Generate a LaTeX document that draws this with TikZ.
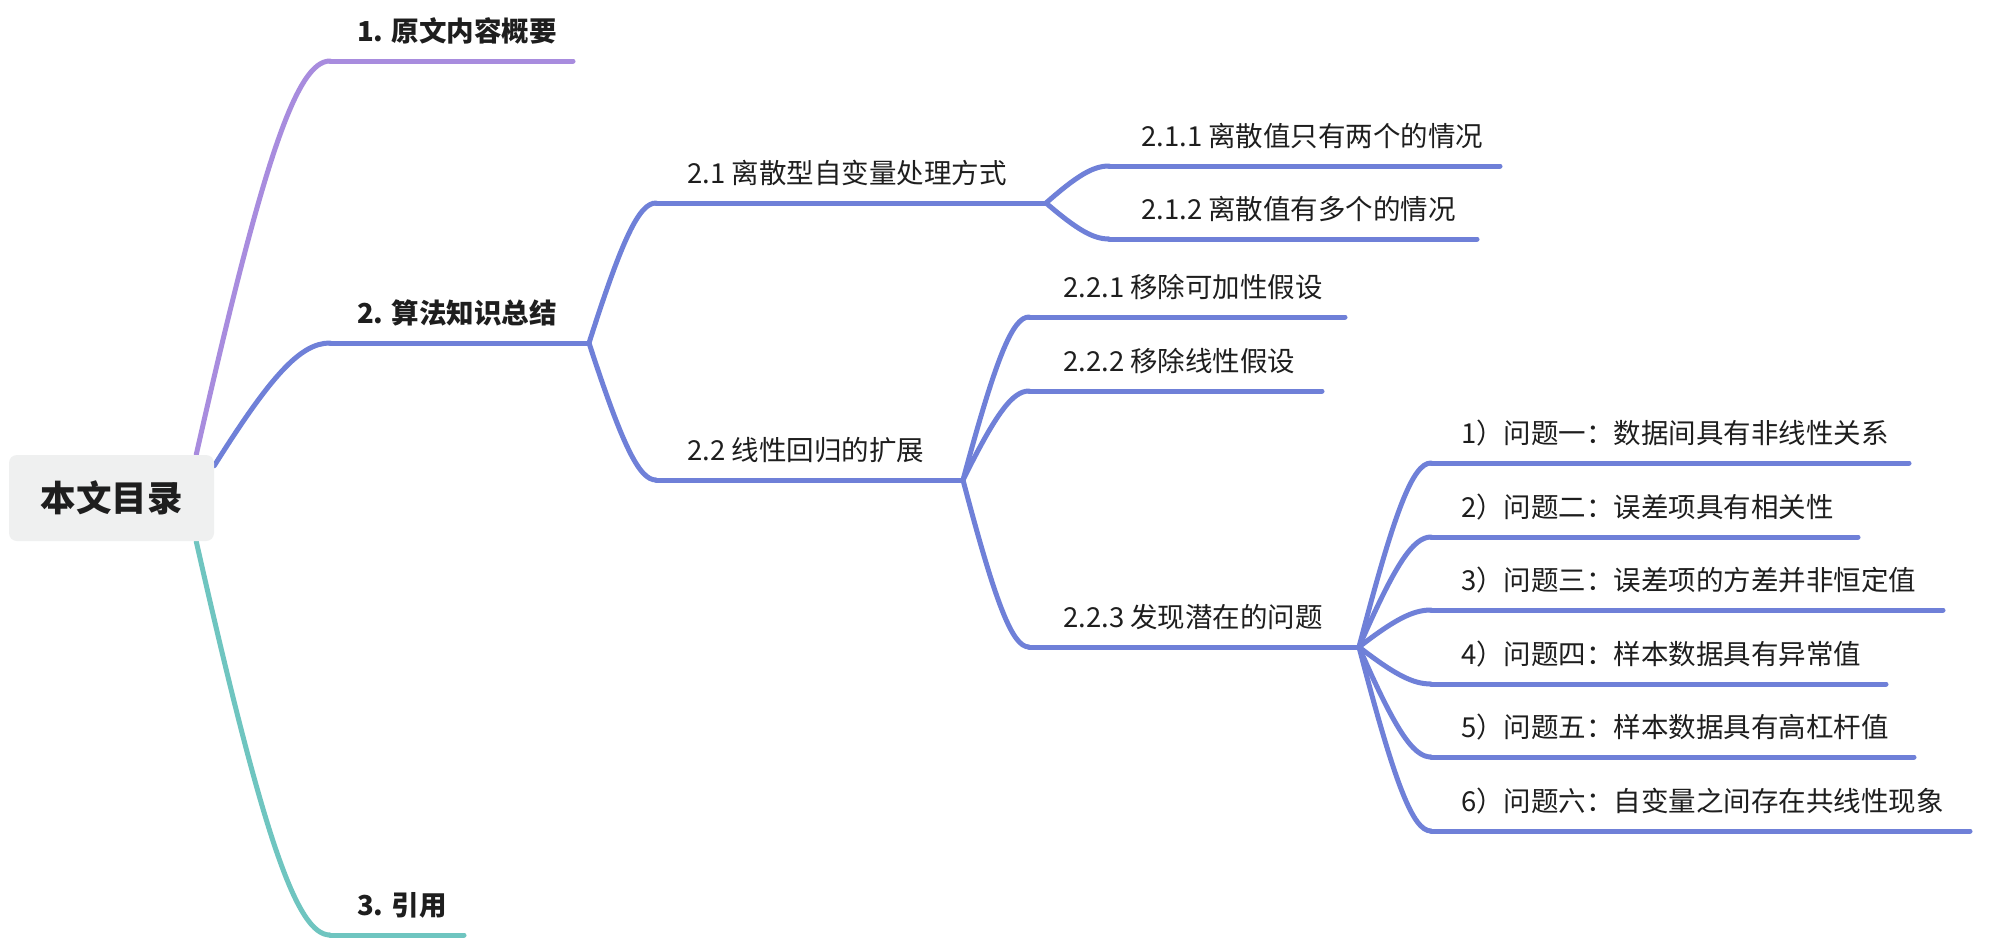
\documentclass[tikz,border=0pt]{standalone}
\usepackage{fontspec}
\setmainfont{Noto Sans CJK SC}
\usetikzlibrary{calc,backgrounds}
\definecolor{cpurple}{RGB}{168,140,222}
\definecolor{cblue}{RGB}{111,128,216}
\definecolor{cteal}{RGB}{111,197,192}
\definecolor{boxfill}{RGB}{239,240,240}
\definecolor{txt}{RGB}{30,30,30}
\tikzset{
  link/.style={line width=5pt, line cap=round},
  subtext/.style={anchor=base west, inner sep=0pt, text=txt, font=\fontsize{27.5}{32}\selectfont},
  maintext/.style={anchor=base west, inner sep=0pt, text=txt, font=\fontsize{27.5}{32}\selectfont\bfseries},
  rootbox/.style={rounded corners=8pt, fill=boxfill, minimum width=205pt, minimum height=86pt, inner sep=0pt, text=txt, font=\fontsize{35.5}{40}\selectfont\bfseries},
}
% #1 name, #2 colour, #3 text style, #4 line start x, #5 line end x, #6 line y, #7 text x, #8 text
\newcommand\mmtopic[8]{%
  \coordinate (#1-a) at (#4,#6);
  \coordinate (#1-b) at (#5,#6);
  \node[#3] (#1) at (#7,{#6-20}) {#8};
  \draw[link,#2] (#1-a) -- (#1-b);
}
\newcommand\mmlink[3]{%
  \draw[link,#1] let \p1=(#2), \p2=(#3) in
    (\p1) .. controls ({\x1+0.5*(\x2-\x1)},{\y1+0.75*(\y2-\y1)}) and ({\x1+0.75*(\x2-\x1)},\y2) .. (\p2);
}
\begin{document}
\begin{tikzpicture}[x=1pt,y=-1pt]
\useasboundingbox (0,0) rectangle (2010,940);
\node[rootbox] (root) at (111.5,498) {本文目录};
\coordinate (r1) at ([xshift=-18]root.north east);
\coordinate (r2) at ([yshift=-11]root.north east);
\coordinate (r3) at ([xshift=-18]root.south east);

\mmtopic{n1}{cpurple}{maintext}{330}{573}{61}{357}{1. 原文内容概要}
\mmtopic{n2}{cblue}{maintext}{330}{589}{343}{357}{2. 算法知识总结}
\mmtopic{n3}{cteal}{maintext}{330}{464}{935}{357}{3. 引用}

\mmtopic{n21}{cblue}{subtext}{656}{1046}{203}{687}{2.1 离散型自变量处理方式}
\mmtopic{n22}{cblue}{subtext}{656}{963}{480}{687}{2.2 线性回归的扩展}

\mmtopic{n211}{cblue}{subtext}{1109}{1500}{166}{1141}{2.1.1 离散值只有两个的情况}
\mmtopic{n212}{cblue}{subtext}{1109}{1477}{239}{1141}{2.1.2 离散值有多个的情况}

\mmtopic{n221}{cblue}{subtext}{1029}{1345}{317}{1063}{2.2.1 移除可加性假设}
\mmtopic{n222}{cblue}{subtext}{1029}{1322}{391}{1063}{2.2.2 移除线性假设}
\mmtopic{n223}{cblue}{subtext}{1029}{1359}{647}{1063}{2.2.3 发现潜在的问题}

\mmtopic{p1}{cblue}{subtext}{1431}{1909}{463}{1461}{1）问题一：数据间具有非线性关系}
\mmtopic{p2}{cblue}{subtext}{1431}{1858}{537}{1461}{2）问题二：误差项具有相关性}
\mmtopic{p3}{cblue}{subtext}{1431}{1943}{610}{1461}{3）问题三：误差项的方差并非恒定值}
\mmtopic{p4}{cblue}{subtext}{1431}{1886}{684}{1461}{4）问题四：样本数据具有异常值}
\mmtopic{p5}{cblue}{subtext}{1431}{1914}{757}{1461}{5）问题五：样本数据具有高杠杆值}
\mmtopic{p6}{cblue}{subtext}{1431}{1970}{831}{1461}{6）问题六：自变量之间存在共线性现象}

\begin{scope}[on background layer]
\fill[white] (0,0) rectangle (2010,940);
\mmlink{cpurple}{r1}{n1-a}
\mmlink{cblue}{r2}{n2-a}
\mmlink{cteal}{r3}{n3-a}
\end{scope}
\mmlink{cblue}{n2-b}{n21-a}
\mmlink{cblue}{n2-b}{n22-a}
\mmlink{cblue}{n21-b}{n211-a}
\mmlink{cblue}{n21-b}{n212-a}
\mmlink{cblue}{n22-b}{n221-a}
\mmlink{cblue}{n22-b}{n222-a}
\mmlink{cblue}{n22-b}{n223-a}
\mmlink{cblue}{n223-b}{p1-a}
\mmlink{cblue}{n223-b}{p2-a}
\mmlink{cblue}{n223-b}{p3-a}
\mmlink{cblue}{n223-b}{p4-a}
\mmlink{cblue}{n223-b}{p5-a}
\mmlink{cblue}{n223-b}{p6-a}
\end{tikzpicture}
\end{document}
